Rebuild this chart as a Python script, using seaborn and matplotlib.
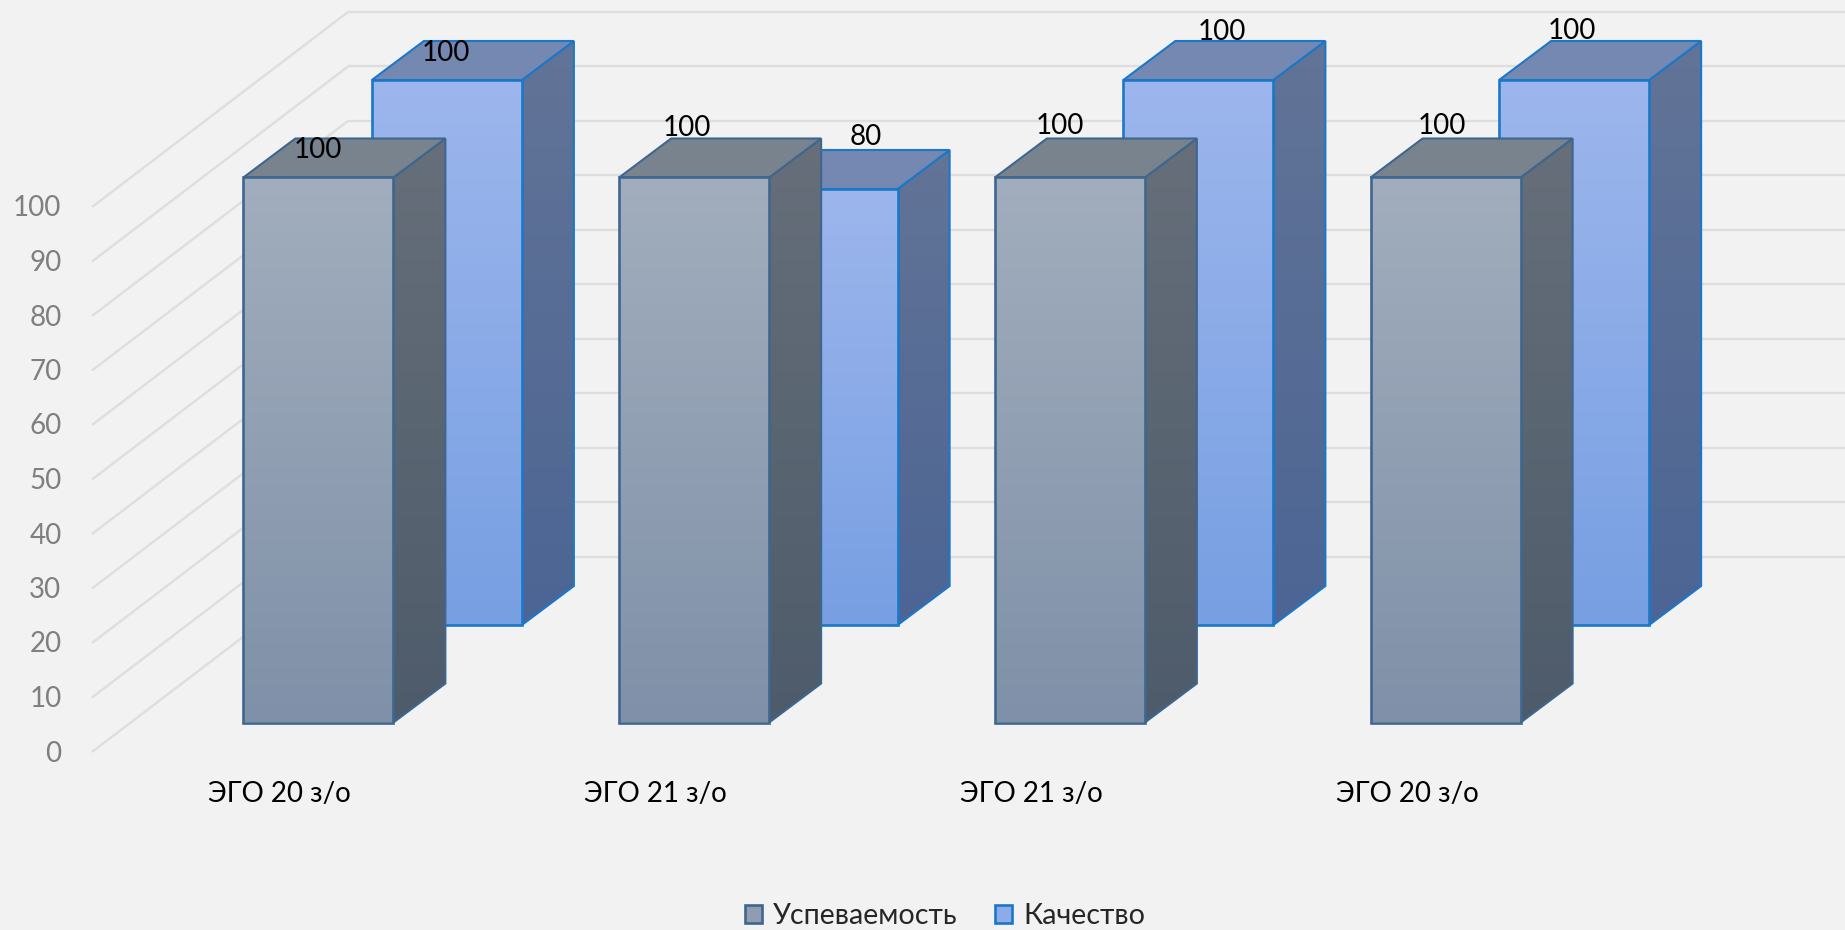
import numpy as np
import matplotlib
matplotlib.use('Agg')
import matplotlib.pyplot as plt
import matplotlib.colors as mcolors
from matplotlib.patches import Patch, Polygon
from matplotlib.transforms import Affine2D
import seaborn as sns

categories = ['ЭГО 20 з/о', 'ЭГО 21 з/о', 'ЭГО 21 з/о', 'ЭГО 20 з/о']
uspevaemost = [100, 100, 100, 100]
kachestvo = [100, 80, 100, 100]
y_ticks = [0, 10, 20, 30, 40, 50, 60, 70, 80, 90, 100]

# Figure size in pixels and the plot box (front edge of the 3D walls)
W, H = 1845, 930
BOX_LEFT, BOX_BOTTOM, BOX_W, BOX_H = 92, 178, 1503, 545

# Oblique projection, all in pixels
WALL_DX, WALL_DY = 256, 195
BAR_DX, BAR_DY = 52, 39
FRONT_PLANE = (38.5, 29.5)
BACK_PLANE = (167, 127)
BAR_WIDTH = 150 / (BOX_W / 4)

BG = '#F2F2F2'
GRID = '#DEDEDE'
front_style = {'face': ('#A2AEBD', '#7F90A8'), 'side': ('#666F7A', '#4E5B6A'),
               'top': '#78838E', 'edge': '#3E668E'}
back_style = {'face': ('#9DB6ED', '#779FE2'), 'side': ('#627497', '#4C6594'),
              'top': '#7488B1', 'edge': '#1B77C8'}

# Data label nudges from the middle of the front top edge of each bar, in pixels
front_label_off = [(-1, 28), (-7, 49), (-10, 52), (-4, 52)]
back_label_off = [(-1.5, 27), (43, 52), (24, 48), (-2, 49)]

sns.set_theme(style='white')
plt.rcParams['font.family'] = ['Lato', 'Noto Sans', 'DejaVu Sans']

fig = plt.figure(figsize=(W / 100, H / 100), dpi=100, facecolor=BG)


def plane_axes(offset=(0, 0)):
    ax = fig.add_axes([(BOX_LEFT + offset[0]) / W, (BOX_BOTTOM + offset[1]) / H,
                       BOX_W / W, BOX_H / H])
    ax.patch.set_visible(False)
    return ax


def set_limits(ax):
    ax.set_xlim(-0.5, len(categories) - 0.5)
    ax.set_ylim(0, 100)


def gradient_fill(ax, corners, colors, zorder):
    # vertical gradient clipped to the polygon of one face
    xs = [c[0] for c in corners]
    ys = [c[1] for c in corners]
    top, bottom = mcolors.to_rgb(colors[0]), mcolors.to_rgb(colors[1])
    grad = np.linspace(top, bottom, 256).reshape(256, 1, 3)
    im = ax.imshow(grad, extent=[min(xs), max(xs), min(ys), max(ys)], aspect='auto',
                   interpolation='bilinear', zorder=zorder)
    clip = Polygon(corners, closed=True, transform=ax.transData, fill=False,
                   edgecolor='none', clip_on=False)
    ax.add_patch(clip)
    # the image must be free to leave the axes box, the side faces stick out of it
    im.set_clip_box(fig.bbox)
    im.set_clip_path(clip)


def draw_series(offset, values, style, label_off):
    ax = plane_axes(offset)
    sns.barplot(x=list(range(len(values))), y=values, ax=ax, width=BAR_WIDTH, saturation=1,
                color=style['face'][0], edgecolor=style['edge'], linewidth=1.9, errorbar=None)
    ddx = BAR_DX / (BOX_W / len(categories))
    ddy = BAR_DY / (BOX_H / 100)
    for bar, val, off in zip(ax.patches, values, label_off):
        x0, x1 = bar.get_x(), bar.get_x() + bar.get_width()
        h = bar.get_height()
        side = [(x1, 0), (x1 + ddx, ddy), (x1 + ddx, h + ddy), (x1, h)]
        gradient_fill(ax, side, style['side'], 1.1)
        ax.add_patch(Polygon(side, closed=True, facecolor='none', edgecolor=style['edge'],
                             linewidth=1.5, clip_on=False, zorder=1.3))
        ax.add_patch(Polygon([(x0, h), (x1, h), (x1 + ddx, h + ddy), (x0 + ddx, h + ddy)],
                             closed=True, facecolor=style['top'], edgecolor=style['edge'],
                             linewidth=1.5, clip_on=False, zorder=1.3))
        gradient_fill(ax, [(x0, 0), (x1, 0), (x1, h), (x0, h)], style['face'], 1.5)
        bar.set_facecolor('none')
        bar.set_zorder(2)
        bar.set_clip_on(False)
        ax.annotate(f'{val}', ((x0 + x1) / 2, h), xytext=off, textcoords='offset pixels',
                    ha='center', va='center', fontsize=20, color='black',
                    annotation_clip=False, zorder=3)
    set_limits(ax)
    ax.axis('off')
    return ax


# Walls: depth lines on the left, horizontal lines on the back
wall = plane_axes()
set_limits(wall)
depth_x = WALL_DX / (BOX_W / len(categories))
depth_y = WALL_DY / (BOX_H / 100)
for v in y_ticks:
    wall.plot([-0.5, -0.5 + depth_x], [v, v + depth_y], color=GRID, lw=1.7, clip_on=False,
              solid_capstyle='butt')
    wall.plot([-0.5 + depth_x, len(categories) - 0.5 + depth_x], [v + depth_y, v + depth_y],
              color=GRID, lw=1.7, clip_on=False, solid_capstyle='butt')
wall.set_xticks(range(len(categories)))
wall.set_xticklabels(categories, fontsize=20, color='black')
wall.set_yticks(y_ticks)
wall.set_yticklabels([str(t) for t in y_ticks], fontsize=20, color='#7F7F7F')
wall.tick_params(axis='x', length=0, pad=21)
wall.tick_params(axis='y', length=0, pad=22)
for lbl in wall.get_yticklabels():
    lbl.set_transform(lbl.get_transform() + Affine2D().translate(0, 1))
sns.despine(ax=wall, left=True, bottom=True)

draw_series(BACK_PLANE, kachestvo, back_style, back_label_off)
draw_series(FRONT_PLANE, uspevaemost, front_style, front_label_off)

handles = [Patch(facecolor='#909DB1', edgecolor=front_style['edge'], linewidth=1.9, label='Успеваемость'),
           Patch(facecolor='#8CABE8', edgecolor=back_style['edge'], linewidth=1.9, label='Качество')]
fig.legend(handles=handles, loc='lower center', bbox_to_anchor=(945 / W, -0.027), ncol=2,
           frameon=False, fontsize=20.6, handlelength=0.6, handleheight=0.6,
           handletextpad=0.38, columnspacing=1.3)

fig.savefig('out.png', dpi=100, facecolor=BG)
